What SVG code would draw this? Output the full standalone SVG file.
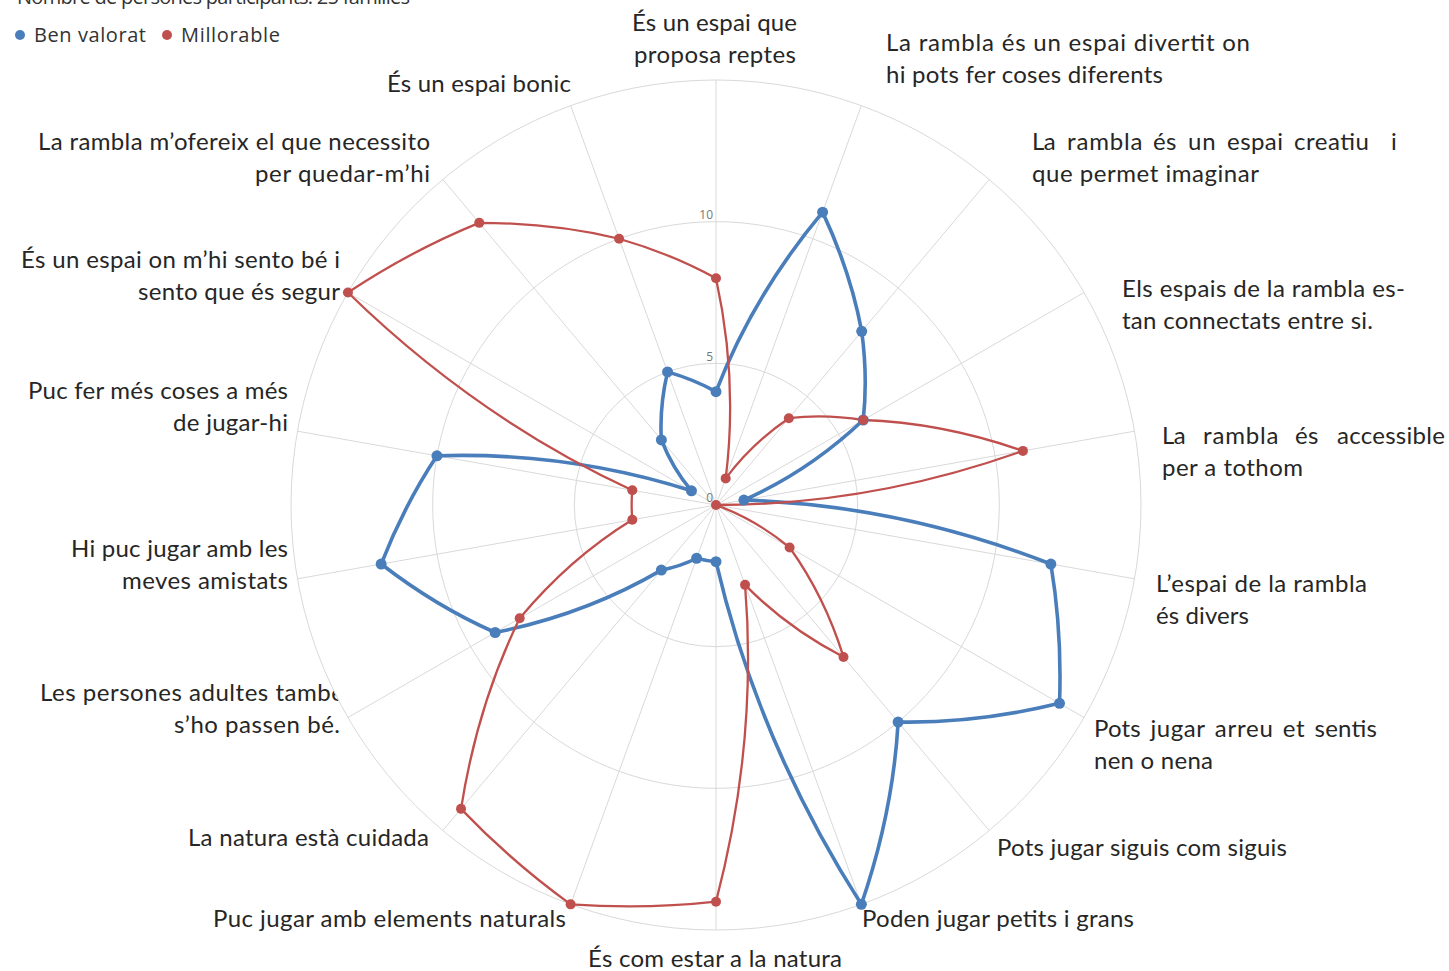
<svg xmlns="http://www.w3.org/2000/svg" width="1449" height="971" viewBox="0 0 1449 971">
<style>
.lbl{font-family:Lato,"Liberation Sans",sans-serif;font-size:24px;fill:#262626}
.end{text-anchor:end}
.leg{font-family:"Open Sans","Liberation Sans",sans-serif;font-size:20px;fill:#333}
.grid{stroke:#d9d9d9;stroke-width:1;fill:none}
.tick{font-family:"Open Sans","Liberation Sans",sans-serif;font-size:12px;fill:#777;text-anchor:end}
.bl{stroke:#4a7ebb;stroke-width:3.6;fill:none;stroke-linejoin:round}
.rl{stroke:#c0504d;stroke-width:2.3;fill:none;stroke-linejoin:round}
.bd{fill:#4a7ebb}
.rd{fill:#c0504d}
</style>
<rect width="1449" height="971" fill="#fff"/>
<g id="title">
<text class="leg" x="17" y="4" textLength="393">Nombre de persones participants: 25 famílies</text>
</g>
<g id="legend">
<circle class="bd" cx="20" cy="35" r="5"/>
<text class="leg" x="34" y="42" textLength="112">Ben valorat</text>
<circle class="rd" cx="167" cy="35" r="5"/>
<text class="leg" x="181" y="42" textLength="99">Millorable</text>
</g>
<g id="labels">
<g id="ax0"><text class="lbl" x="632" y="31" textLength="165">És un espai que</text><text class="lbl" x="634" y="63" textLength="162">proposa reptes</text></g>
<g id="ax1"><text class="lbl" x="886" y="51" textLength="364">La rambla és un espai divertit on</text><text class="lbl" x="886" y="83" textLength="277">hi pots fer coses diferents</text></g>
<g id="ax2"><text class="lbl" y="150"><tspan x="1032" textLength="23.7">La</tspan><tspan x="1067" textLength="75.5">rambla</tspan><tspan x="1153" textLength="23.5">és</tspan><tspan x="1188" textLength="27.7">un</tspan><tspan x="1227" textLength="56">espai</tspan><tspan x="1294" textLength="74.9">creatiu</tspan><tspan x="1391" textLength="6">i</tspan></text><text class="lbl" x="1032" y="182" textLength="227">que permet imaginar</text></g>
<g id="ax3"><text class="lbl" x="1122" y="297" textLength="283">Els espais de la rambla es-</text><text class="lbl" x="1122" y="329" textLength="251">tan connectats entre si.</text></g>
<g id="ax4"><text class="lbl" y="444"><tspan x="1162" textLength="23.7">La</tspan><tspan x="1203" textLength="75.5">rambla</tspan><tspan x="1295" textLength="23.5">és</tspan><tspan x="1337" textLength="107.9">accessible</tspan></text><text class="lbl" x="1162" y="476" textLength="141">per a tothom</text></g>
<g id="ax5"><text class="lbl" x="1156" y="592" textLength="211">L’espai de la rambla</text><text class="lbl" x="1156" y="624" textLength="93">és divers</text></g>
<g id="ax6"><text class="lbl" y="737"><tspan x="1094" textLength="46.7">Pots</tspan><tspan x="1150.5" textLength="54.5">jugar</tspan><tspan x="1214.8" textLength="58.1">arreu</tspan><tspan x="1282.7" textLength="22">et</tspan><tspan x="1314.5" textLength="62.5">sentis</tspan></text><text class="lbl" x="1094" y="769" textLength="119">nen o nena</text></g>
<g id="ax7"><text class="lbl" x="997" y="856" textLength="290">Pots jugar siguis com siguis</text></g>
<g id="ax8"><text class="lbl" x="862" y="927" textLength="272">Poden jugar petits i grans</text></g>
<g id="ax9"><text class="lbl" x="588" y="967" textLength="254">És com estar a la natura</text></g>
<g id="ax10"><text class="lbl" x="213" y="927" textLength="353">Puc jugar amb elements naturals</text></g>
<g id="ax11"><text class="lbl" x="188" y="846" textLength="241">La natura està cuidada</text></g>
<g id="ax12"><text class="lbl" x="40" y="701" textLength="304">Les persones adultes també</text><text class="lbl end" x="340" y="733" textLength="166">s’ho passen bé.</text></g>
<g id="ax13"><text class="lbl end" x="288" y="557" textLength="217">Hi puc jugar amb les</text><text class="lbl end" x="288" y="589" textLength="166">meves amistats</text></g>
<g id="ax14"><text class="lbl end" x="288" y="399" textLength="260">Puc fer més coses a més</text><text class="lbl end" x="288" y="431" textLength="115">de jugar-hi</text></g>
<g id="ax15"><text class="lbl end" x="340" y="268" textLength="319">És un espai on m’hi sento bé i</text><text class="lbl end" x="340" y="300" textLength="202">sento que és segur</text></g>
<g id="ax16"><text class="lbl end" x="430" y="150" textLength="392">La rambla m’ofereix el que necessito</text><text class="lbl end" x="430" y="182" textLength="175">per quedar-m’hi</text></g>
<g id="ax17"><text class="lbl" x="387" y="92" textLength="184">És un espai bonic</text></g>
</g>
<g id="grid">
<circle cx="716" cy="505" r="425" fill="#fff" stroke="#d9d9d9" stroke-width="1"/>
<circle class="grid" cx="716" cy="505" r="283.33"/>
<circle class="grid" cx="716" cy="505" r="141.67"/>
<path class="grid" d="M716,505L716,80M716,505L861.36,105.63M716,505L989.19,179.43M716,505L1084.06,292.5M716,505L1134.54,431.2M716,505L1134.54,578.8M716,505L1084.06,717.5M716,505L989.19,830.57M716,505L861.36,904.37M716,505L716,930M716,505L570.64,904.37M716,505L442.81,830.57M716,505L347.94,717.5M716,505L297.46,578.8M716,505L297.46,431.2M716,505L347.94,292.5M716,505L442.81,179.43M716,505L570.64,105.63"/>
<text class="tick" x="713" y="219">10</text>
<text class="tick" x="713" y="361">5</text>
<text class="tick" x="713" y="502">0</text>
</g>
<g id="connectors">
<path id="blue-line" class="bl" d="M716,391.67 Q752.90,295.73 822.60,212.13 Q850.58,271.89 861.70,331.36 Q867.93,377.51 863.22,420.00 Q809.19,471.08 743.90,500.08 Q900.17,505 1050.84,564.04 Q1062.12,630.98 1059.53,703.33 Q976.45,723.55 898.12,722.04 Q893.08,811.72 861.36,904.37 Q757.82,742.17 716,561.67 Q706.16,560.81 696.62,558.25 Q680.58,566.34 661.36,570.11 Q585.77,614.27 495.16,632.50 Q436.44,606.75 381.16,564.04 Q404.33,505 436.97,455.80 Q569.57,451.70 691.46,490.83 Q672.59,468.57 661.36,439.89 Q659.33,406.85 667.55,371.88 Q693.86,379.44 716,391.67 Z"/>
<path id="red-line" class="rl" d="M716,278.33 Q738.14,379.44 725.69,478.38 Q751.42,443.66 788.85,418.18 Q824.52,413.94 863.22,420.00 Q942.31,422.63 1022.93,450.88 Q871.83,505 716,505 Q755.94,519.54 789.61,547.50 Q824.52,596.06 843.49,656.93 Q786.83,627.69 745.07,584.87 Q757.82,742.17 716,901.67 Q644.66,909.59 570.64,904.37 Q510.58,860.79 461.03,808.86 Q477.25,705.34 519.70,618.33 Q569.57,558.30 632.29,519.76 Q631,505 632.29,490.24 Q476.38,417.78 347.94,292.50 Q412.14,250.02 479.24,222.84 Q553.08,222.82 619.09,238.75 Q671.72,253.87 716,278.33 Z"/>
</g>
<g id="blue-points" class="bd">
<circle cx="716" cy="391.67" r="5.5"/><circle cx="822.6" cy="212.13" r="5.5"/><circle cx="861.7" cy="331.36" r="5.5"/><circle cx="863.22" cy="420" r="5.5"/><circle cx="743.9" cy="500.08" r="5.5"/><circle cx="1050.84" cy="564.04" r="5.5"/><circle cx="1059.53" cy="703.33" r="5.5"/><circle cx="898.12" cy="722.04" r="5.5"/><circle cx="861.36" cy="904.37" r="5.5"/><circle cx="716" cy="561.67" r="5.5"/><circle cx="696.62" cy="558.25" r="5.5"/><circle cx="661.36" cy="570.11" r="5.5"/><circle cx="495.16" cy="632.5" r="5.5"/><circle cx="381.16" cy="564.04" r="5.5"/><circle cx="436.97" cy="455.8" r="5.5"/><circle cx="691.46" cy="490.83" r="5.5"/><circle cx="661.36" cy="439.89" r="5.5"/><circle cx="667.55" cy="371.88" r="5.5"/>
</g>
<g id="red-points" class="rd">
<circle cx="716" cy="278.33" r="5"/><circle cx="725.69" cy="478.38" r="5"/><circle cx="788.85" cy="418.18" r="5"/><circle cx="863.22" cy="420" r="5"/><circle cx="1022.93" cy="450.88" r="5"/><circle cx="716" cy="505" r="5"/><circle cx="789.61" cy="547.5" r="5"/><circle cx="843.49" cy="656.93" r="5"/><circle cx="745.07" cy="584.87" r="5"/><circle cx="716" cy="901.67" r="5"/><circle cx="570.64" cy="904.37" r="5"/><circle cx="461.03" cy="808.86" r="5"/><circle cx="519.7" cy="618.33" r="5"/><circle cx="632.29" cy="519.76" r="5"/><circle cx="632.29" cy="490.24" r="5"/><circle cx="347.94" cy="292.5" r="5"/><circle cx="479.24" cy="222.84" r="5"/><circle cx="619.09" cy="238.75" r="5"/>
</g>
</svg>
